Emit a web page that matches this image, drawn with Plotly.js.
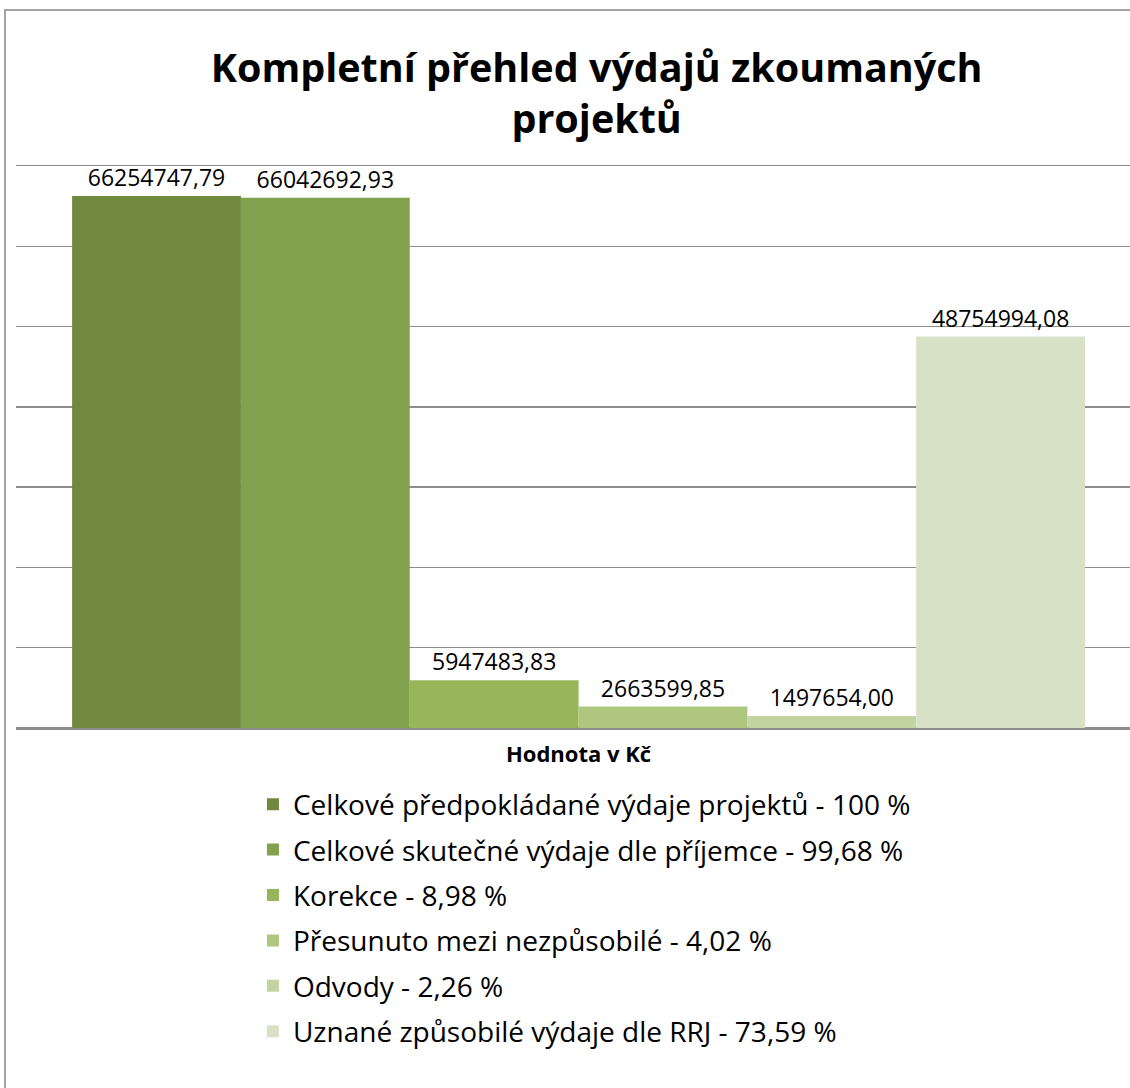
<!DOCTYPE html>
<html>
<head>
<meta charset="utf-8">
<script src="https://cdn.plot.ly/plotly-3.0.1.min.js"></script>
<style>
  html, body { margin: 0; padding: 0; background: #ffffff; overflow: hidden; }
  #frame { position: absolute; left: 4px; top: 9px; width: 2000px; height: 2000px; border: 2px solid #a3a3a3; box-sizing: border-box; }
  #chart { position: absolute; left: 0; top: 0; width: 1130px; height: 1088px; }
</style>
</head>
<body>
<div id="frame"></div>
<div id="chart"></div>
<script>
const category = ['Hodnota v Kč'];
const seriesNames = [
  'Celkové předpokládané výdaje projektů - 100 %',
  'Celkové skutečné výdaje dle příjemce - 99,68 %',
  'Korekce - 8,98 %',
  'Přesunuto mezi nezpůsobilé - 4,02 %',
  'Odvody - 2,26 %',
  'Uznané způsobilé výdaje dle RRJ - 73,59 %'
];
const seriesValues = [66254747.79, 66042692.93, 5947483.83, 2663599.85, 1497654.00, 48754994.08];
const seriesColors = ['#71893f', '#83a04c', '#98b559', '#afc67f', '#c3d4a3', '#d7e1c5'];

const FONT = '"Open Sans", "Noto Sans", sans-serif';

const traces = seriesNames.map((name, i) => ({
  type: 'bar',
  name: name,
  x: category,
  y: [seriesValues[i]],
  marker: { color: seriesColors[i], line: { width: 0 } },
  texttemplate: '%{y:.2f}',
  textposition: 'outside',
  constraintext: 'none',
  cliponaxis: false,
  textfont: { family: FONT, size: 23, color: '#000000' },
  outsidetextfont: { family: FONT, size: 23, color: '#000000' },
  legendgroup: 'g' + i,
  hoverinfo: 'none'
}));

const layout = {
  width: 1130,
  height: 1088,
  paper_bgcolor: 'rgba(0,0,0,0)',
  plot_bgcolor: 'rgba(0,0,0,0)',
  separators: ', ',
  margin: { l: 16, r: 0, t: 166, b: 360, pad: 0, autoexpand: false },
  barmode: 'group',
  bargap: 0.0907,
  bargroupgap: 0,
  title: {
    text: '<b>Kompletní přehled výdajů zkoumaných<br>projektů</b>',
    font: { family: FONT, size: 39.5, color: '#000000' },
    x: 0.528, xanchor: 'center', xref: 'container',
    y: 1 - 82 / 1088, yanchor: 'top', yref: 'container'
  },
  xaxis: {
    type: 'category',
    range: [-0.505, 0.495],
    showgrid: false,
    showline: true,
    mirror: true,
    linecolor: '#8c8c8c',
    linewidth: 1.5,
    zeroline: false,
    ticks: '',
    ticklabelstandoff: 6,
    tickfont: { family: FONT, size: 22, color: '#000000', weight: 'bold' },
    fixedrange: true
  },
  yaxis: {
    range: [0, 70000000],
    dtick: 10000000,
    showticklabels: false,
    showgrid: true,
    gridcolor: '#8c8c8c',
    gridwidth: 1.5,
    zeroline: true,
    zerolinecolor: '#8c8c8c',
    zerolinewidth: 1.5,
    ticks: '',
    fixedrange: true
  },
  showlegend: true,
  legend: {
    orientation: 'v',
    traceorder: 'grouped',
    tracegroupgap: 6,
    x: 0.2127, xanchor: 'left',
    y: -0.0916, yanchor: 'top',
    font: { family: FONT, size: 28, color: '#000000' },
    bgcolor: 'rgba(0,0,0,0)',
    borderwidth: 0
  }
};

Plotly.newPlot('chart', traces, layout, { staticPlot: true, displayModeBar: false });
</script>
</body>
</html>
